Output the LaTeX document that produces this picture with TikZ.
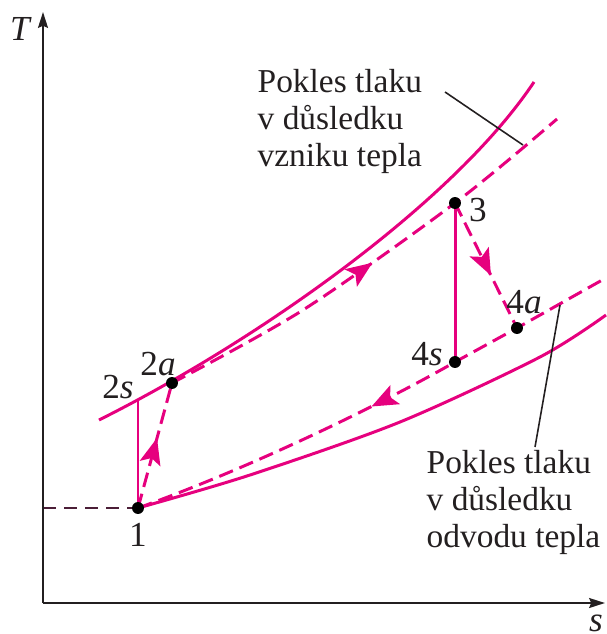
\documentclass[tikz,border=0pt]{standalone}
\usepackage{fontspec}
\setmainfont{Liberation Serif}
\usetikzlibrary{arrows.meta,decorations.markings,backgrounds}
\definecolor{hot}{RGB}{230,0,126}
\definecolor{ink}{RGB}{35,31,32}
\definecolor{plum}{RGB}{75,30,55}

\begin{document}
\begin{tikzpicture}[
  x=0.01cm, y=-0.01cm,
  pnt/.style={circle, fill=black, minimum size=3.4pt, inner sep=0pt},
  lbl/.style={font=\fontsize{10}{12}\selectfont, text=ink, inner sep=0pt},
  note/.style={font=\fontsize{9.5}{10.5}\selectfont, text=ink, align=left,
               anchor=north west, inner sep=0pt},
  ax/.style={draw=ink, line width=0.7pt,
             -{Stealth[length=4.5pt,width=2.8pt,inset=0.6pt]}},
  iso/.style={draw=hot, line width=0.85pt},
  isod/.style={iso, dash pattern=on 4.2pt off 2pt},
  lead/.style={draw=ink, line width=0.45pt},
  fwd/.style={postaction={decorate, decoration={markings,
      mark=at position #1 with {\arrow{Stealth[length=7.5pt,width=6pt,inset=1.6pt]}}}}},
  bwd/.style={postaction={decorate, decoration={markings,
      mark=at position #1 with {\arrowreversed{Stealth[length=7.5pt,width=6pt,inset=1.6pt]}}}}},
]
  \useasboundingbox (0,0) rectangle (606,634);
  \coordinate (o) at (43,603);
  \coordinate (ty) at (43,12);
  \coordinate (sx) at (605,603);
  \coordinate (y1) at (43,508);
  \draw[ax] (o) -- (ty);
  \draw[ax] (o) -- (sx);
  \node[lbl] (lT) at (21,29) {\textit{T}};
  \node[lbl] (ls) at (596,623) {\textit{s}};

  \node[pnt] (p1) at (138,508) {};
  \coordinate (p2s) at (138,400);
  \node[pnt] (p2a) at (172,383) {};
  \node[pnt] (p3) at (455,203) {};
  \node[pnt] (p4s) at (455,362) {};
  \node[pnt] (p4a) at (517,328) {};
  \coordinate (hiL) at (99,420);
  \coordinate (hiR) at (534,82);
  \coordinate (e3) at (557,119);
  \coordinate (e4) at (604,279);
  \coordinate (loR) at (606,315);

  \node[lbl] (l1) at (138,535) {1};
  \node[lbl] (l2s) at (118,387) {2\textit{s}};
  \node[lbl] (l2a) at (158,364) {2\textit{a}};
  \node[lbl] (l3) at (478,210) {3};
  \node[lbl] (l4s) at (427,354) {4\textit{s}};
  \node[lbl] (l4a) at (524,302) {4\textit{a}};

  \begin{scope}[on background layer]
    \draw[iso] (hiL) .. controls (259,340) and (454,202) .. (hiR);
    \draw[isod, fwd=0.5] plot[smooth] coordinates {(p2a.center) (303,310) (p3.center) (e3)};
    \draw[iso] plot[smooth] coordinates {(p1.center) (250,475) (400,422) (540,357) (loR)};
    \draw[isod, bwd=0.49] (p1.center) .. controls (250,468) and (380,405) .. (p4s.center)
      -- (p4a.center) -- (e4);
    \draw[iso] (p1.center) -- (p2s);
    \draw[isod, fwd=0.56] (p1.center) -- (p2a.center);
    \draw[iso] (p4s.center) -- (p3.center);
    \draw[isod, fwd=0.58] (p3.center) -- (p4a.center);
    \draw[plum, line width=0.7pt, dash pattern=on 3.7pt off 2.3pt] (y1) -- (p1.center);
  \end{scope}

  \node[note] (n1) at (257,69) {Pokles tlaku\\v důsledku\\vzniku tepla};
  \coordinate (k1) at (445,92);
  \coordinate (m1) at (523,145);
  \draw[lead] (k1) -- (m1);
  \node[note] (n2) at (426,450) {Pokles tlaku\\v důsledku\\odvodu tepla};
  \coordinate (m2) at (560,305);
  \coordinate (k2) at (535,447);
  \draw[lead] (m2) -- (k2);
\end{tikzpicture}
\end{document}
